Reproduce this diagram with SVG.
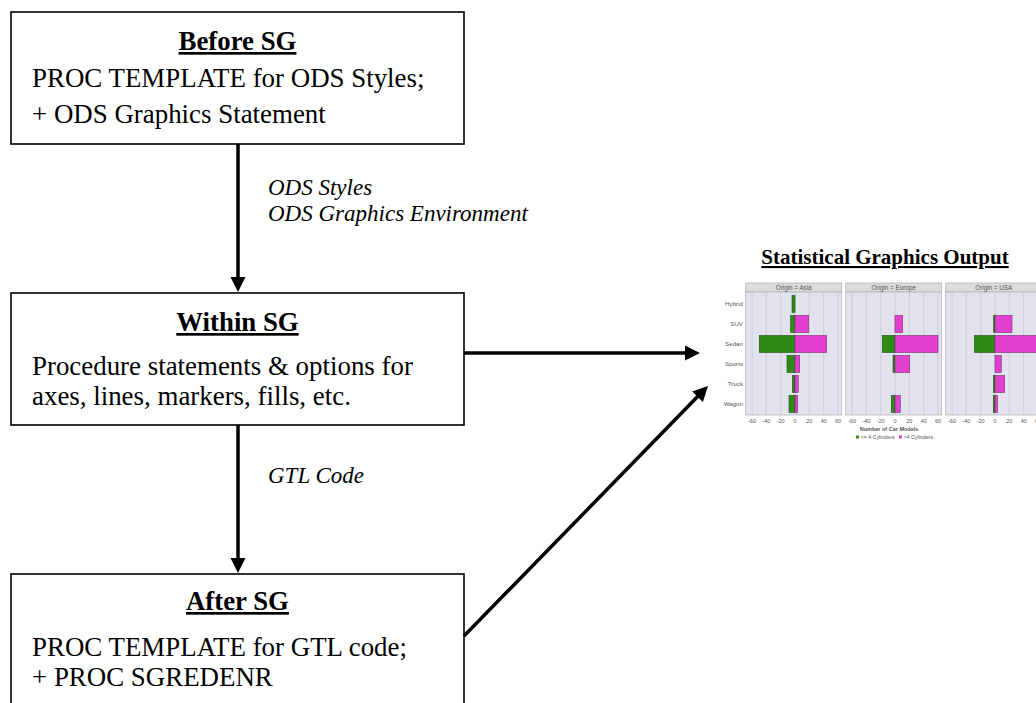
<svg xmlns="http://www.w3.org/2000/svg" width="1036" height="703" viewBox="0 0 1036 703">
<style>
.box{fill:#fff;stroke:#000;stroke-width:1.6}
.hd{font-family:"Liberation Serif",serif;font-size:26.8px;font-weight:bold;text-anchor:middle;text-decoration:underline}
.bd{font-family:"Liberation Serif",serif;font-size:26.9px}
.lb{font-family:"Liberation Serif",serif;font-size:23px;font-style:italic}
.ar{fill:none;stroke:#000;stroke-width:3.5}
.ph{fill:#dcdcdc;stroke:#b4b4b4;stroke-width:0.8}
.pa{fill:#e2e2ef;stroke:#b4b4b4;stroke-width:0.8}
.gl{stroke:#c6c6d2;stroke-width:0.8}
.g{fill:#2f8a16;stroke:#1a4f0c;stroke-width:0.6}
.p{fill:#e03fd0;stroke:#7a2f70;stroke-width:0.6}
.ct{font-family:"Liberation Sans",sans-serif;fill:#555}
</style>
<defs>
<marker id="ah" markerUnits="userSpaceOnUse" markerWidth="16" markerHeight="16" refX="2" refY="7.5" orient="auto">
<path d="M0,0 L15,7.5 L0,15 z" fill="#000"/>
</marker>
</defs>

<g id="before">
<rect class="box" x="11" y="12" width="453" height="132"/>
<text class="hd" x="237.5" y="50">Before SG</text>
<text class="bd" x="32" y="87">PROC TEMPLATE for ODS Styles;</text>
<text class="bd" x="32" y="123">+ ODS Graphics Statement</text>
</g>

<g id="within">
<rect class="box" x="11" y="293" width="453" height="132"/>
<text class="hd" x="237.5" y="331">Within SG</text>
<text class="bd" x="32" y="375">Procedure statements &amp; options for</text>
<text class="bd" x="32" y="405">axes, lines, markers, fills, etc.</text>
</g>

<g id="after">
<rect class="box" x="11" y="574" width="453" height="140"/>
<text class="hd" x="237.5" y="610">After SG</text>
<text class="bd" x="32" y="656">PROC TEMPLATE for GTL code;</text>
<text class="bd" x="32" y="686">+ PROC SGREDENR</text>
</g>

<g id="connectors">
<line class="ar" x1="238" y1="144" x2="238" y2="279" marker-end="url(#ah)"/>
<line class="ar" x1="238" y1="425" x2="238" y2="560" marker-end="url(#ah)"/>
<line class="ar" x1="464" y1="353" x2="687" y2="353" marker-end="url(#ah)"/>
<line class="ar" x1="464" y1="636" x2="698.9" y2="395.3" marker-end="url(#ah)"/>
<text class="lb" x="268" y="195">ODS Styles</text>
<text class="lb" x="268" y="221">ODS Graphics Environment</text>
<text class="lb" x="268" y="483">GTL Code</text>
</g>

<g id="output">
<text x="885" y="264" font-family="Liberation Serif,serif" font-size="21" font-weight="bold" text-anchor="middle" text-decoration="underline">Statistical Graphics Output</text>

<rect class="ph" x="745.7" y="283" width="96" height="9"/>
<rect class="pa" x="745.7" y="292" width="96" height="123"/>
<rect class="ph" x="845.7" y="283" width="96" height="9"/>
<rect class="pa" x="845.7" y="292" width="96" height="123"/>
<rect class="ph" x="945.7" y="283" width="96" height="9"/>
<rect class="pa" x="945.7" y="292" width="96" height="123"/>
<g class="gl">
<line x1="752" y1="292" x2="752" y2="415"/><line x1="766.3" y1="292" x2="766.3" y2="415"/><line x1="780.7" y1="292" x2="780.7" y2="415"/><line x1="795" y1="292" x2="795" y2="415"/><line x1="809.3" y1="292" x2="809.3" y2="415"/><line x1="823.7" y1="292" x2="823.7" y2="415"/><line x1="838" y1="292" x2="838" y2="415"/>
<line x1="852" y1="292" x2="852" y2="415"/><line x1="866.3" y1="292" x2="866.3" y2="415"/><line x1="880.7" y1="292" x2="880.7" y2="415"/><line x1="895" y1="292" x2="895" y2="415"/><line x1="909.3" y1="292" x2="909.3" y2="415"/><line x1="923.7" y1="292" x2="923.7" y2="415"/><line x1="938" y1="292" x2="938" y2="415"/>
<line x1="952" y1="292" x2="952" y2="415"/><line x1="966.3" y1="292" x2="966.3" y2="415"/><line x1="980.7" y1="292" x2="980.7" y2="415"/><line x1="995" y1="292" x2="995" y2="415"/><line x1="1009.3" y1="292" x2="1009.3" y2="415"/><line x1="1023.7" y1="292" x2="1023.7" y2="415"/><line x1="1038" y1="292" x2="1038" y2="415"/>
</g>
<g class="ct" font-size="6.3" text-anchor="middle">
<text x="793.7" y="290">Origin = Asia</text>
<text x="893.7" y="290">Origin = Europe</text>
<text x="993.7" y="290">Origin = USA</text>
</g>
<g class="ct" font-size="6.2" text-anchor="end">
<text x="743" y="306">Hybrid</text>
<text x="743" y="326">SUV</text>
<text x="743" y="346">Sedan</text>
<text x="743" y="366">Sports</text>
<text x="743" y="386">Truck</text>
<text x="743" y="406">Wagon</text>
</g>
<rect class="g" x="792" y="295.5" width="3" height="17"/>
<rect class="g" x="790.7" y="315.5" width="4.3" height="17"/>
<rect class="p" x="795" y="315.5" width="13.7" height="17"/>
<rect class="g" x="759.3" y="335.5" width="35.7" height="17"/>
<rect class="p" x="795" y="335.5" width="31.7" height="17"/>
<rect class="g" x="787" y="355.5" width="8" height="17"/>
<rect class="p" x="795" y="355.5" width="4.7" height="17"/>
<rect class="g" x="792.3" y="375.5" width="2.7" height="17"/>
<rect class="p" x="795" y="375.5" width="3.3" height="17"/>
<rect class="g" x="789" y="395.5" width="6" height="17"/>
<rect class="p" x="795" y="395.5" width="2.7" height="17"/>
<rect class="p" x="895" y="315.5" width="7.7" height="17"/>
<rect class="g" x="882.4" y="335.5" width="12.6" height="17"/>
<rect class="p" x="895" y="335.5" width="43" height="17"/>
<rect class="g" x="893" y="355.5" width="2" height="17"/>
<rect class="p" x="895" y="355.5" width="14.7" height="17"/>
<rect class="g" x="891.3" y="395.5" width="3.7" height="17"/>
<rect class="p" x="895" y="395.5" width="5.3" height="17"/>
<rect class="g" x="993.7" y="315.5" width="1.3" height="17"/>
<rect class="p" x="995" y="315.5" width="17" height="17"/>
<rect class="g" x="974.3" y="335.5" width="20.7" height="17"/>
<rect class="p" x="995" y="335.5" width="50" height="17"/>
<rect class="p" x="995" y="355.5" width="6.3" height="17"/>
<rect class="g" x="993.5" y="375.5" width="1.5" height="17"/>
<rect class="p" x="995" y="375.5" width="9.7" height="17"/>
<rect class="g" x="993.3" y="395.5" width="1.7" height="17"/>
<rect class="p" x="995" y="395.5" width="2.5" height="17"/>
<g class="ct" font-size="5.5" text-anchor="middle">
<text x="752" y="423">-60</text><text x="766.3" y="423">-40</text><text x="780.7" y="423">-20</text><text x="795" y="423">0</text><text x="809.3" y="423">20</text><text x="823.7" y="423">40</text><text x="838" y="423">60</text>
<text x="852" y="423">-60</text><text x="866.3" y="423">-40</text><text x="880.7" y="423">-20</text><text x="895" y="423">0</text><text x="909.3" y="423">20</text><text x="923.7" y="423">40</text><text x="938" y="423">60</text>
<text x="952" y="423">-60</text><text x="966.3" y="423">-40</text><text x="980.7" y="423">-20</text><text x="995" y="423">0</text><text x="1009.3" y="423">20</text><text x="1023.7" y="423">40</text><text x="1038" y="423">60</text>
</g>
<text class="ct" x="889" y="431" font-size="5.5" font-weight="bold" text-anchor="middle" fill="#444">Number of Car Models</text>
<rect x="856" y="435.5" width="3" height="3" fill="#2f8a16"/>
<text class="ct" x="860.5" y="438.5" font-size="5.3">&lt;= 4 Cylinders</text>
<rect x="899" y="435.5" width="3" height="3" fill="#e03fd0"/>
<text class="ct" x="903.5" y="438.5" font-size="5.3">&gt;4 Cylinders</text>
</g>
</svg>
